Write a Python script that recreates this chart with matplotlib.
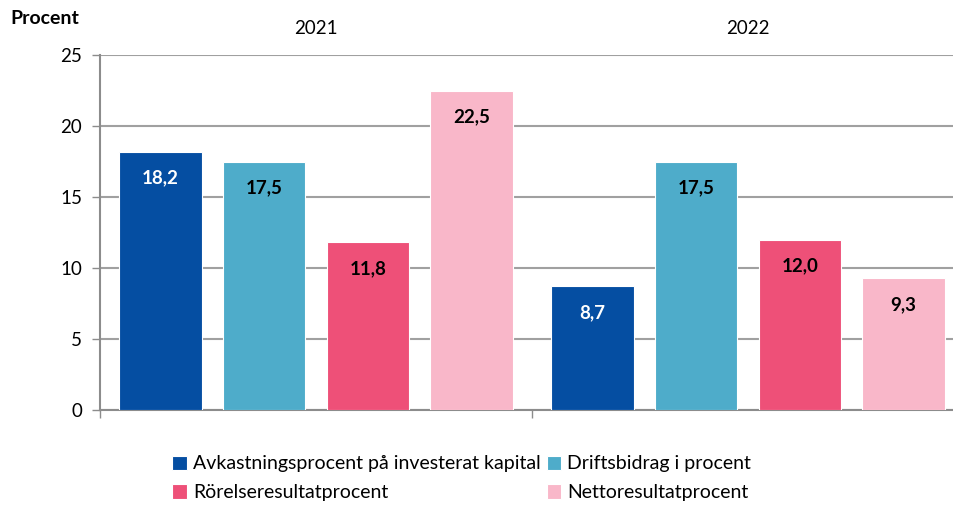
import matplotlib.pyplot as plt
import numpy as np

years = ["2021", "2022"]
series = ["Avkastningsprocent på investerat kapital", "Driftsbidrag i procent",
          "Rörelseresultatprocent", "Nettoresultatprocent"]
values = [[18.2, 8.7], [17.5, 17.5], [11.8, 12.0], [22.5, 9.3]]
colors = ["#054ea2", "#4eacca", "#ee5078", "#f9b7c9"]
label_colors = ["white", "black", "black", "black"]
yticks = [0, 5, 10, 15, 20, 25]

plt.rcParams["font.family"] = ["Lato", "DejaVu Sans"]

fig = plt.figure(figsize=(9.54, 5.05), dpi=100)
# axes runs past the right edge, as in the reference
ax = fig.add_axes([100 / 954, 95 / 505, 864 / 954, 355 / 505])

x = np.arange(len(years))
w = 0.19
step = 0.24
handles = []
for i, (name, vals) in enumerate(zip(series, values)):
    pos = x + (i - 1.5) * step
    bars = ax.bar(pos, vals, w, color=colors[i], edgecolor="white", linewidth=0.8,
                  label=name, zorder=3)
    handles.append(bars)
    for b, v in zip(bars, vals):
        ax.annotate(f"{v:.1f}".replace(".", ","), (b.get_x() + b.get_width() / 2, v),
                    xytext=(0, -19), textcoords="offset points", ha="center", va="center",
                    fontsize=13.5, fontweight="bold", color=label_colors[i], zorder=4)

ax.set_xlim(-0.5, 1.5)
ax.set_ylim(0, 25)
ax.set_yticks(yticks)
ax.set_yticklabels([str(t) for t in yticks], fontsize=13.5)
ax.set_xticks([-0.5, 0.5, 1.5])
ax.set_xticklabels([])
ax.tick_params(axis="x", direction="out", length=6, color="#8c8c8c", width=1)
ax.tick_params(axis="y", direction="out", length=6, color="#8c8c8c", width=1, pad=7)
ax.grid(axis="y", color="#a0a0a0", linewidth=1.5, zorder=0)
for s in ["top", "right"]:
    ax.spines[s].set_visible(False)
for s in ["left", "bottom"]:
    ax.spines[s].set_color("#8c8c8c")
    ax.spines[s].set_linewidth(1.5)

for xi, yr in zip(x, years):
    ax.text(xi, 26.9, yr, ha="center", va="center", fontsize=13.5)
fig.text(10 / 954, 1 - 18 / 505, "Procent", ha="left", va="center", fontsize=14,
         fontweight="bold")

# row-major order like the reference: col 1 = series 0, 2; col 2 = series 1, 3
order = [0, 2, 1, 3]
fig.legend([handles[k] for k in order], [series[k] for k in order],
           loc="upper left", bbox_to_anchor=(155 / 954, 1 - 438 / 505), ncol=2,
           frameon=False, fontsize=14, handlelength=0.75, handleheight=0.75,
           handletextpad=0.3, columnspacing=0.3, labelspacing=0.6)

fig.savefig("out.png", dpi=100)
